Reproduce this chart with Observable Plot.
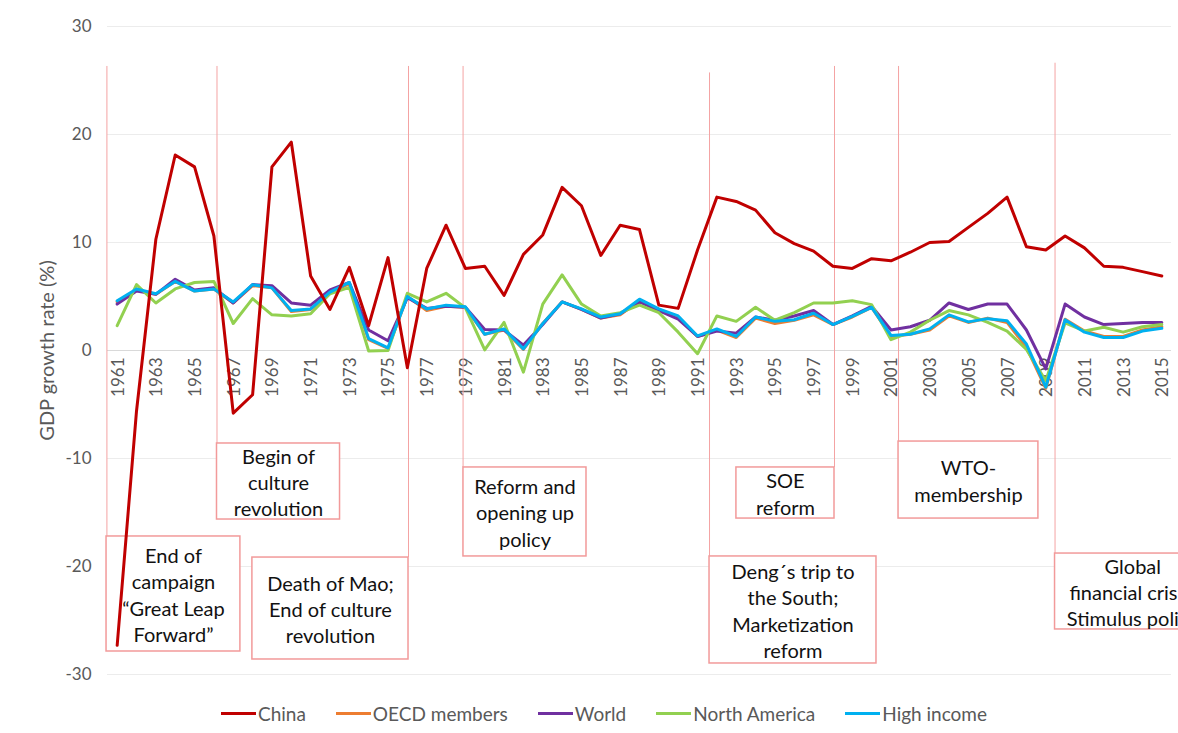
<!DOCTYPE html>
<html><head><meta charset="utf-8">
<script src="https://cdn.jsdelivr.net/npm/d3@7"></script>
<script src="https://cdn.jsdelivr.net/npm/@observablehq/plot@0.6"></script>
<style>
body{margin:0;background:#fff;overflow:hidden;font-family:Lato,sans-serif;}
#legend{display:flex;justify-content:center;align-items:center;height:36px;font-size:19px;color:#595959;padding-left:30px;}
.item{display:flex;align-items:center;margin:0 15px;}
.sw{width:35px;height:3px;margin-right:2px;}
</style></head><body>
<div id="chart"></div>
<div id="legend"></div>
<script>
const years = d3.range(1961, 2016);
const china = [-27.3,-5.6,10.3,18.1,17.0,10.6,-5.8,-4.1,17.0,19.3,
  6.9,3.8,7.7,2.3,8.6,-1.6,7.6,11.6,7.6,7.8,
  5.1,8.9,10.7,15.1,13.4,8.8,11.6,11.2,4.2,3.9,
  9.3,14.2,13.8,13.0,10.9,9.9,9.2,7.8,7.6,8.5,
  8.3,9.1,10.0,10.1,11.4,12.7,14.2,9.6,9.3,10.6,
  9.5,7.8,7.7,7.3,6.9];
const oecd = [4.5,5.6,5.2,6.4,5.5,5.7,4.4,6.0,5.8,3.6,
  3.8,5.3,6.2,1.0,0.2,5.0,3.7,4.1,4.0,1.5,
  1.9,0.1,2.5,4.5,3.8,3.0,3.3,4.6,3.8,3.1,
  1.3,1.9,1.2,3.0,2.5,2.8,3.3,2.4,3.1,4.0,
  1.3,1.5,1.9,3.2,2.6,3.0,2.6,0.3,-3.5,2.9,
  1.8,1.3,1.3,1.9,2.2];
const world = [4.3,5.5,5.2,6.6,5.6,5.8,4.4,6.1,6.0,4.4,
  4.2,5.6,6.3,1.9,0.9,4.9,3.9,4.1,4.0,1.95,
  1.9,0.5,2.4,4.5,3.8,3.0,3.4,4.5,3.7,2.9,
  1.3,1.8,1.6,3.1,2.8,3.2,3.7,2.4,3.2,4.1,
  1.9,2.2,2.8,4.4,3.8,4.3,4.3,1.9,-1.7,4.3,
  3.1,2.4,2.5,2.6,2.6];
const northAmerica = [2.3,6.1,4.4,5.7,6.3,6.4,2.5,4.8,3.3,3.2,
  3.4,5.25,5.85,-0.05,0.0,5.3,4.5,5.3,3.95,0.05,
  2.6,-2.0,4.3,7.0,4.3,3.2,3.5,4.2,3.5,1.7,
  -0.3,3.2,2.7,4.0,2.8,3.5,4.4,4.4,4.6,4.25,
  1.0,1.7,2.8,3.7,3.3,2.6,1.8,0.1,-2.8,2.55,
  1.8,2.15,1.7,2.2,2.4];
const highIncome = [4.6,5.7,5.25,6.4,5.5,5.7,4.5,6.1,5.8,3.7,
  3.85,5.4,6.3,1.1,0.25,5.0,3.85,4.2,4.05,1.5,
  2.0,0.15,2.5,4.5,3.85,3.1,3.4,4.75,3.85,3.2,
  1.35,2.0,1.3,3.1,2.7,2.85,3.45,2.4,3.15,4.0,
  1.4,1.5,2.0,3.3,2.65,2.95,2.75,0.6,-3.4,2.85,
  1.7,1.2,1.2,1.8,2.05];

const seriesNames = ["China","OECD members","World","North America","High income"];
const seriesColors = ["#c00000","#ed7d31","#7030a0","#92d050","#00b0f0"];
const seriesValues = [china, oecd, world, northAmerica, highIncome];

const yTicks = [-30,-20,-10,0,10,20,30];
const yearLabels = years.filter(y => y % 2 === 1);
const yTitle = "GDP growth rate (%)";

// Event annotations (positions in year / growth-rate units)
const eventText = [
  "End of\ncampaign\n\u201cGreat Leap\nForward\u201d",
  "Begin of\nculture\nrevolution",
  "Death of Mao;\nEnd of culture\nrevolution",
  "Reform and\nopening up\npolicy",
  "Deng\u00b4s trip to\nthe South;\nMarketization\nreform",
  "SOE\nreform",
  "WTO-\nmembership",
  "Global\nfinancial crisis;\nStimulus policy"
];
const eventLineX   = [1960.47, 1966.16, 1976.06, 1978.88, 1991.62, 1998.08, 2001.39, 2009.48];
const eventLineTop = [26.3, 26.3, 26.3, 26.3, 25.7, 26.3, 26.3, 26.6];
const eventX1      = [1960.45, 1966.16, 1967.99, 1978.90, 1991.62, 1993.01, 2001.39, 2009.48];
const eventX2      = [1967.37, 1972.52, 1976.06, 1985.26, 2000.25, 1998.08, 2008.62, 2017.52];
const eventTop     = [-17.22, -8.61, -19.17, -10.83, -19.07, -10.83, -8.43, -18.8];
const eventBottom  = [-27.87, -15.65, -28.61, -19.07, -28.98, -15.56, -15.56, -25.83];

const events = eventText.map((t, i) => ({
  text: t, lineX: eventLineX[i], lineTop: eventLineTop[i],
  x1: eventX1[i], x2: eventX2[i], yTop: eventTop[i], yBottom: eventBottom[i],
  cx: (eventX1[i] + eventX2[i]) / 2, cy: (eventTop[i] + eventBottom[i]) / 2
}));

const rows = [];
seriesNames.forEach((name, s) => {
  years.forEach((yr, i) => rows.push({series: name, year: yr, value: seriesValues[s][i]}));
});
const others = rows.filter(d => d.series !== "China");
const chinaRows = rows.filter(d => d.series === "China");

const chart = Plot.plot({
  width: 1178,
  height: 695,
  marginLeft: 107,
  marginRight: 7,
  marginTop: 26,
  marginBottom: 21,
  style: {fontFamily: "Lato, sans-serif", fontSize: "17px", color: "#595959", background: "#fff"},
  x: {domain: [1960.5, 2015.5], axis: null},
  y: {domain: [-30, 30], axis: null},
  color: {domain: seriesNames, range: seriesColors},
  marks: [
    Plot.ruleY(yTicks.filter(d => d !== 0), {stroke: "#ececec", strokeWidth: 1}),
    Plot.ruleY([0], {stroke: "#d9d9d9", strokeWidth: 1}),
    Plot.axisY(yTicks, {
      tickSize: 0, tickPadding: 16, tickFormat: d => String(d),
      fontSize: 17, fill: "#595959", label: null
    }),
    Plot.text([yTitle], {
      frameAnchor: "left", text: d => d, rotate: -90, dx: -60,
      fontSize: 20, fill: "#595959", lineAnchor: "middle", textAnchor: "middle"
    }),
    Plot.text(yearLabels, {
      x: d => d, y: 0, text: d => String(d), rotate: -90,
      textAnchor: "end", lineAnchor: "middle", dy: 7, dx: 1,
      fontSize: 17, fill: "#595959"
    }),
    Plot.ruleX(events, {x: "lineX", y1: "lineTop", y2: "yTop", stroke: "#f4a3a3", strokeWidth: 1}),
    Plot.rect(events, {x1: "x1", x2: "x2", y1: "yTop", y2: "yBottom", fill: "#fff", stroke: "#f29a9a", strokeWidth: 1.5}),
    Plot.text(events, {
      x: "cx", y: "cy", text: "text", lineAnchor: "middle", lineHeight: 1.32,
      fontSize: 20, fill: "#111"
    }),
    Plot.line(others, {x: "year", y: "value", z: "series", stroke: "series", strokeWidth: 3, strokeLinejoin: "round"}),
    Plot.line(chinaRows, {x: "year", y: "value", stroke: "series", strokeWidth: 3, strokeLinejoin: "round"})
  ]
});
document.getElementById("chart").appendChild(chart);

const legend = document.getElementById("legend");
seriesNames.forEach((name, i) => {
  const item = document.createElement("div");
  item.className = "item";
  const sw = document.createElement("div");
  sw.className = "sw";
  sw.style.background = seriesColors[i];
  const lab = document.createElement("span");
  lab.textContent = name;
  item.appendChild(sw);
  item.appendChild(lab);
  legend.appendChild(item);
});
</script>
</body></html>
